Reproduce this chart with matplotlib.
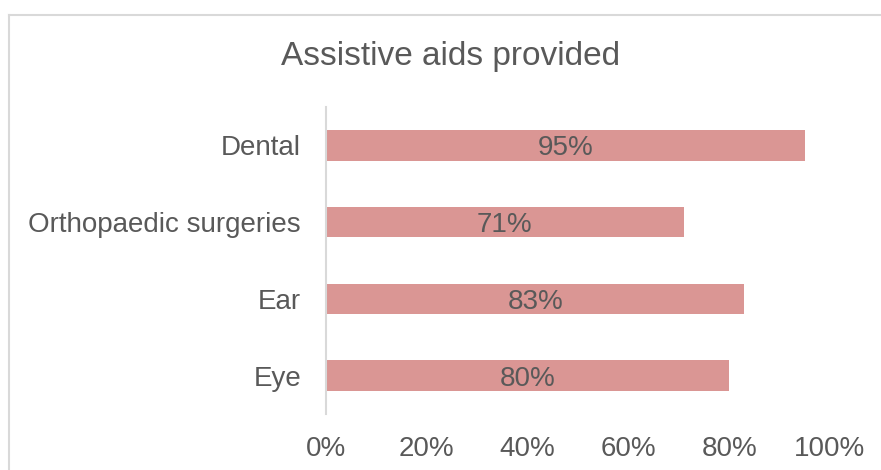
import matplotlib.pyplot as plt
from matplotlib.lines import Line2D
from matplotlib.ticker import PercentFormatter

# 데이터 (아래에서 위 순서)
categories = ["Eye", "Ear", "Orthopaedic surgeries", "Dental"]
values = [0.80, 0.83, 0.71, 0.95]
labels = ["80%", "83%", "71%", "95%"]
xticks = [0, 0.2, 0.4, 0.6, 0.8, 1.0]

plt.rcParams['font.family'] = ['Liberation Sans', 'DejaVu Sans']
txt = '#595959'

fig = plt.figure(figsize=(8.81, 4.70), dpi=100)
ax = fig.add_axes([326/881, 1-414/470, (830-326)/881, (414-107)/470])

bars = ax.barh(categories, values, height=0.4, color='#DA9694')
for b, lab in zip(bars, labels):
    ax.text(b.get_width()/2, b.get_y()+b.get_height()/2, lab,
            ha='center', va='center_baseline', fontsize=20, color=txt)

ax.set_xlim(0, 1)
ax.set_ylim(-0.5, 3.5)
ax.set_xticks(xticks)
ax.xaxis.set_major_formatter(PercentFormatter(1.0, decimals=0))
ax.tick_params(axis='both', length=0, labelsize=20, labelcolor=txt)
ax.tick_params(axis='x', pad=16)
ax.tick_params(axis='y', pad=18)
for s in ['top', 'right', 'bottom']:
    ax.spines[s].set_visible(False)
ax.spines['left'].set_color('#D9D9D9')
ax.spines['left'].set_linewidth(1.5)

fig.text(451/881, 1-57/470, "Assistive aids provided", ha='center', va='center',
         fontsize=24, color=txt)

# 바깥 테두리 (왼쪽, 위쪽만 보임)
fig.add_artist(Line2D([8.5/881, 8.5/881], [0, 1-14.5/470], transform=fig.transFigure,
                      color='#D9D9D9', lw=1.5))
fig.add_artist(Line2D([8.5/881, 1], [1-14.5/470, 1-14.5/470], transform=fig.transFigure,
                      color='#D9D9D9', lw=1.5))

fig.savefig('out.png', dpi=100)
